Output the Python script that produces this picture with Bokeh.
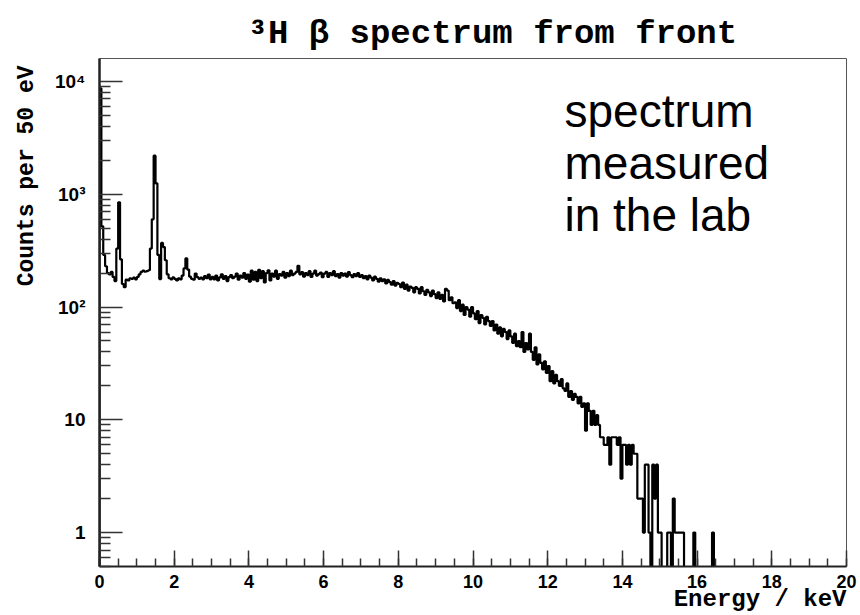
import numpy as np
from bokeh.plotting import figure
from bokeh.models import Range1d, FixedTicker, Label, Title
from bokeh.embed import file_html
from bokeh.resources import INLINE

# ---------------- data (counts per 50 eV bin, 0 - 20 keV) ----------------
bin_width_kev = 0.05
counts = [
    8700, 520, 290, 230, 200, 195, 205, 185, 170, 330,
    850, 265, 160, 150, 175, 172, 180, 178, 182, 176,
    185, 195, 205, 210, 206, 208, 212, 330, 600, 2200,
    1250, 290, 177, 370, 340, 260, 195, 180, 176, 183,
    178, 172, 180, 176, 190, 220, 270, 215, 186, 178,
    175, 198, 184, 178, 182, 176, 188, 180, 194, 176,
    185, 176, 190, 172, 183, 195, 178, 188, 170, 184,
    192, 180, 186, 198, 175, 190, 182, 200, 178, 194,
    168, 210, 175, 205, 170, 214, 180, 208, 165, 200,
    212, 172, 198, 186, 210, 178, 196, 190, 205, 182,
    200, 188, 210, 192, 198, 205, 232, 195, 204, 186,
    200, 192, 208, 185, 198, 210, 190, 196, 202, 184,
    198, 205, 185, 200, 192, 208, 188, 196, 182, 200,
    190, 198, 186, 204, 192, 184, 196, 188, 200, 185,
    192, 180, 188, 176, 190, 182, 172, 186, 178, 168,
    180, 170, 176, 162, 174, 166, 158, 170, 155, 164,
    160, 150, 165, 145, 158, 140, 152, 148, 135, 150,
    145, 132, 150, 138, 128, 142, 135, 125, 140, 130,
    120, 135, 118, 128, 112, 145, 140, 115, 122, 108,
    110, 98, 115, 92, 105, 85, 100, 95, 82, 100,
    88, 78, 92, 72, 85, 80, 70, 82, 75, 68,
    75, 62, 70, 58, 66, 55, 64, 60, 52, 62,
    55, 48, 58, 45, 50, 44, 60, 40, 48, 42,
    58, 40, 34, 44, 31, 38, 32, 28, 33, 26,
    30, 22, 27, 21, 25, 22, 20, 23, 19, 18,
    21, 16, 18, 15, 17, 16, 14, 16, 13, 14,
    8, 14, 12, 9, 12, 9, 11, 9, 7, 7,
    6, 6, 7, 4, 7, 7, 7, 6, 7, 3,
    6, 6, 4, 6, 4, 6, 5, 5, 2, 2,
    2, 1, 4, 4, 1, 0, 4, 2, 4, 1,
    1, 0, 0, 0, 1, 1, 0, 2, 1, 1,
    1, 1, 1, 0, 0, 0, 0, 0, 1, 0,
    0, 0, 0, 0, 0, 0, 0, 0, 1, 0,
    0, 0, 0, 0, 0, 0, 0, 0, 0, 0,
    0, 0, 0, 0, 0, 0, 0, 0, 0, 0,
    0, 0, 0, 0, 0, 0, 0, 0, 0, 0,
    0, 0, 0, 0, 0, 0, 0, 0, 0, 0,
    0, 0, 0, 0, 0, 0, 0, 0, 0, 0,
    0, 0, 0, 0, 0, 0, 0, 0, 0, 0,
    0, 0, 0, 0, 0, 0, 0, 0, 0, 0,
]

x_major_ticks = [0, 2, 4, 6, 8, 10, 12, 14, 16, 18, 20]
y_major_ticks = [1, 10, 100, 1000, 10000]
y_tick_labels = ["1", "10", "10\u00b2", "10\u00b3", "10\u2074"]

title_text = "\u00b3H \u03b2 spectrum from front"
x_label = "Energy / keV"
y_label = "Counts per 50 eV"
note_lines = ["spectrum", "measured", "in the lab"]

# ---------------- figure ----------------
x_lo, x_hi = 0.0, 20.0
y_lo, y_hi = 0.5, 16000.0

p = figure(width=860, height=615, y_axis_type="log",
           x_range=Range1d(x_lo, x_hi), y_range=Range1d(y_lo, y_hi),
           output_backend="svg", toolbar_location=None,
           min_border_left=99, min_border_right=14,
           min_border_top=58, min_border_bottom=49)

p.background_fill_color = "white"
p.border_fill_color = "white"
p.outline_line_color = "#555555"
p.outline_line_width = 1
p.xgrid.visible = False
p.ygrid.visible = False

# title
p.title.text = title_text
p.title.align = "left"
p.title.offset = 148
p.title.standoff = 12
p.title.text_font = "Liberation Mono"
p.title.text_font_style = "bold"
p.title.text_font_size = "34px"
p.title.text_color = "black"

# histogram outline (ROOT style): empty bins drop below the frame bottom
vals = np.asarray(counts, dtype=float)
floor = y_lo * 0.5
plot_vals = np.where(vals > 0, vals, floor)
edges = x_lo + np.arange(len(vals) + 1) * bin_width_kev
xs = np.repeat(edges, 2)
ys = np.concatenate([[floor], np.repeat(plot_vals, 2), [floor]])
p.line(xs, ys, line_color="black", line_width=2.2)

# axes
x_minor = [t for t in np.arange(x_lo, x_hi + 1e-9, 0.5)]
y_minor = [m * 10.0 ** d for d in range(-1, 5) for m in range(2, 10)
           if y_lo <= m * 10.0 ** d <= y_hi]

xa = p.xaxis[0]
xa.ticker = FixedTicker(ticks=x_major_ticks, minor_ticks=x_minor)
xa.major_tick_in = 16
xa.major_tick_out = 0
xa.minor_tick_in = 8
xa.minor_tick_out = 0
xa.axis_line_width = 2
xa.axis_line_color = "#222222"
xa.major_tick_line_color = "#333333"
xa.minor_tick_line_color = "#333333"
xa.major_tick_line_width = 1.5
xa.minor_tick_line_width = 1.5
xa.major_label_text_font = "Liberation Sans"
xa.major_label_text_font_style = "bold"
xa.major_label_text_font_size = "18px"
xa.major_label_text_color = "black"
xa.major_label_standoff = 8

ya = p.yaxis[0]
ya.ticker = FixedTicker(ticks=y_major_ticks, minor_ticks=y_minor)
ya.major_label_overrides = {float(t): s for t, s in zip(y_major_ticks, y_tick_labels)}
ya.major_tick_in = 23
ya.major_tick_out = 0
ya.minor_tick_in = 11
ya.minor_tick_out = 0
ya.axis_line_width = 2.5
ya.axis_line_color = "#222222"
ya.major_tick_line_color = "#333333"
ya.minor_tick_line_color = "#333333"
ya.major_tick_line_width = 1.5
ya.minor_tick_line_width = 1.5
ya.major_label_text_font = "Liberation Sans"
ya.major_label_text_font_style = "bold"
ya.major_label_text_font_size = "19px"
ya.major_label_text_color = "black"
ya.major_label_standoff = 14

# axis titles, ROOT-style: aligned to the end of each axis
p.add_layout(Title(text=x_label, align="right", vertical_align="top", standoff=-9,
                   text_font="Liberation Mono", text_font_style="bold",
                   text_font_size="24px", text_color="black"), "below")
p.add_layout(Title(text=y_label, align="right", offset=7, vertical_align="middle",
                   standoff=21, text_font="Liberation Mono", text_font_style="bold",
                   text_font_size="23px", text_color="black"), "left")

# annotation text inside the frame (screen units from the frame's bottom-left)
for i, line in enumerate(note_lines):
    p.add_layout(Label(x=465, y=456 - 52 * i, x_units="screen", y_units="screen",
                       text=line, text_font="Liberation Sans",
                       text_font_size="46px", text_align="left",
                       text_baseline="alphabetic", text_color="black"))

open("out.html", "w").write(file_html(p, INLINE))
